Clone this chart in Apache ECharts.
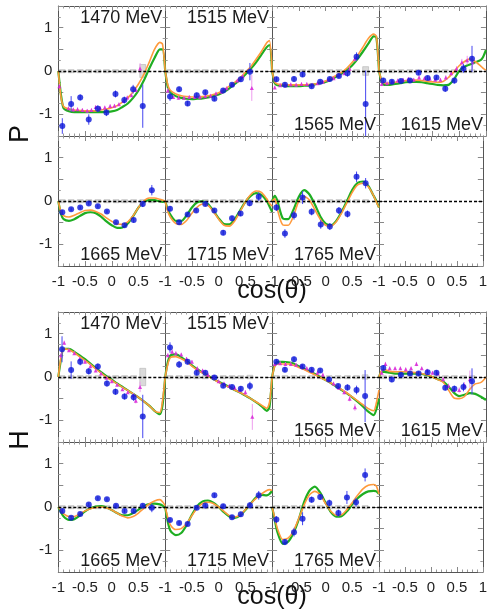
<!DOCTYPE html>
<html>
<head>
<meta charset="utf-8">
<script src="https://cdn.jsdelivr.net/npm/echarts@6/dist/echarts.min.js"></script>
<style>
  html, body { margin: 0; background: #fff; }
  #chart { width: 490px; height: 616px; }
</style>
</head>
<body>
<div id="chart"></div>
<script>
// x grid of the two model curves (cos theta)
const cosGrid = [-1, -0.95, -0.9, -0.8, -0.7, -0.6, -0.5, -0.4, -0.3, -0.2, -0.1, 0, 0.1, 0.2, 0.3, 0.4, 0.5, 0.6, 0.7, 0.8, 0.9, 0.95, 1]

// ---- P, upper row ----
// blue: [cos, value, stat err, sys err]
const P1470_blue = [[-0.925, -1.27, 0.18, 0.03], [-0.76, -0.76, 0.18, 0.03], [-0.59, -0.61, 0.07, 0.03], [-0.43, -1.12, 0.12, 0.03], [-0.26, -0.87, 0.08, 0.03], [-0.1, -0.96, 0.08, 0.03], [0.07, -0.53, 0.08, 0.03], [0.235, -0.67, 0.08, 0.03], [0.4, -0.42, 0.1, 0.03], [0.58, -0.81, 0.5, 0.15]]
// magenta: [cos, value, err]
const P1470_tri = [[-0.98, -0.35, 0.05], [-0.81, -0.86, 0.04], [-0.72, -0.89, 0.04], [-0.64, -0.88, 0.04], [-0.55, -0.9, 0.04], [-0.46, -0.92, 0.04], [-0.38, -0.9, 0.04], [-0.3, -0.83, 0.04], [-0.22, -0.85, 0.04], [-0.13, -0.84, 0.04], [-0.03, -0.81, 0.04], [0.05, -0.8, 0.04], [0.135, -0.77, 0.04], [0.22, -0.69, 0.04], [0.29, -0.61, 0.04], [0.37, -0.56, 0.04], [0.45, -0.44, 0.05], [0.53, 0.06, 0.12]]
const P1470_green = [0, -0.55, -0.86, -0.93, -0.95, -0.95, -0.95, -0.95, -0.95, -0.95, -0.94, -0.93, -0.9, -0.83, -0.75, -0.62, -0.45, -0.22, 0.05, 0.3, 0.5, 0.5, 0]
const P1470_orange = [0, -0.6, -0.82, -0.88, -0.9, -0.91, -0.92, -0.92, -0.92, -0.9, -0.88, -0.85, -0.8, -0.72, -0.62, -0.48, -0.3, -0.08, 0.2, 0.5, 0.66, 0.62, 0]

const P1515_blue = [[-0.91, -0.59, 0.1, 0.03], [-0.74, -0.42, 0.06, 0.03], [-0.58, -0.75, 0.06, 0.03], [-0.41, -0.56, 0.06, 0.03], [-0.25, -0.49, 0.05, 0.03], [-0.08, -0.64, 0.05, 0.03], [0.085, -0.45, 0.05, 0.03], [0.25, -0.32, 0.05, 0.03], [0.415, -0.19, 0.06, 0.03], [0.585, -0.015, 0.2, 0.03]]
const P1515_tri = [[-0.95, -0.45, 0.05], [-0.85, -0.6, 0.04], [-0.75, -0.62, 0.04], [-0.65, -0.62, 0.04], [-0.55, -0.6, 0.04], [-0.45, -0.6, 0.04], [-0.35, -0.6, 0.04], [-0.25, -0.58, 0.04], [-0.15, -0.57, 0.04], [-0.05, -0.52, 0.04], [0.05, -0.48, 0.04], [0.15, -0.4, 0.04], [0.25, -0.32, 0.04], [0.35, -0.22, 0.04], [0.45, -0.12, 0.05], [0.62, -0.39, 0.3]]
const P1515_green = [0, -0.38, -0.5, -0.58, -0.62, -0.64, -0.65, -0.64, -0.63, -0.61, -0.58, -0.54, -0.48, -0.4, -0.3, -0.2, -0.08, 0.05, 0.2, 0.38, 0.55, 0.6, 0]
const P1515_orange = [0, -0.33, -0.45, -0.53, -0.57, -0.59, -0.6, -0.6, -0.59, -0.57, -0.54, -0.5, -0.43, -0.35, -0.26, -0.16, -0.03, 0.1, 0.27, 0.45, 0.65, 0.7, 0]

const P1565_blue = [[-0.92, -0.19, 0.06, 0.03], [-0.76, -0.32, 0.06, 0.03], [-0.59, -0.185, 0.06, 0.03], [-0.43, -0.08, 0.06, 0.03], [-0.26, -0.35, 0.05, 0.03], [-0.1, -0.25, 0.05, 0.03], [0.08, -0.185, 0.05, 0.03], [0.25, -0.115, 0.05, 0.03], [0.41, -0.05, 0.08, 0.03], [0.58, 0.33, 0.1, 0.03], [0.75, -0.76, 0.77, 0.1]]
const P1565_tri = [[-0.95, -0.38, 0.04], [-0.85, -0.33, 0.04], [-0.75, -0.33, 0.04], [-0.65, -0.31, 0.04], [-0.55, -0.32, 0.04], [-0.45, -0.3, 0.04], [-0.35, -0.3, 0.04], [-0.25, -0.32, 0.04], [-0.15, -0.28, 0.04], [-0.05, -0.25, 0.04], [0.05, -0.2, 0.04], [0.15, -0.17, 0.04], [0.25, -0.1, 0.04], [0.35, -0.05, 0.04], [0.45, 0.05, 0.05], [0.55, 0.28, 0.06]]
const P1565_green = [0, -0.28, -0.33, -0.34, -0.35, -0.35, -0.35, -0.34, -0.33, -0.31, -0.28, -0.25, -0.2, -0.13, -0.06, 0.02, 0.13, 0.28, 0.45, 0.63, 0.8, 0.78, 0]
const P1565_orange = [0, -0.25, -0.3, -0.31, -0.32, -0.32, -0.32, -0.32, -0.31, -0.3, -0.27, -0.23, -0.17, -0.1, -0.03, 0.07, 0.2, 0.36, 0.55, 0.75, 0.85, 0.8, 0]

const P1615_blue = [[-0.92, -0.22, 0.06, 0.03], [-0.76, -0.25, 0.05, 0.03], [-0.59, -0.23, 0.05, 0.03], [-0.42, -0.22, 0.05, 0.03], [-0.26, -0.04, 0.05, 0.03], [-0.09, -0.16, 0.05, 0.03], [0.075, -0.15, 0.05, 0.03], [0.24, -0.41, 0.07, 0.03], [0.41, -0.22, 0.07, 0.03], [0.58, 0.06, 0.1, 0.03], [0.74, 0.28, 0.3, 0.03]]
const P1615_tri = [[-0.95, -0.3, 0.05], [-0.85, -0.28, 0.04], [-0.75, -0.25, 0.04], [-0.65, -0.22, 0.04], [-0.55, -0.2, 0.04], [-0.45, -0.18, 0.04], [-0.35, -0.2, 0.04], [-0.25, -0.15, 0.04], [-0.15, -0.17, 0.04], [-0.05, -0.18, 0.04], [0.05, -0.2, 0.04], [0.15, -0.2, 0.04], [0.25, -0.15, 0.05], [0.35, -0.05, 0.05], [0.45, 0.05, 0.06], [0.55, 0.2, 0.08], [0.65, 0.25, 0.1], [0.75, 0.2, 0.15]]
const P1615_green = [0, -0.25, -0.32, -0.32, -0.3, -0.28, -0.26, -0.25, -0.25, -0.26, -0.28, -0.3, -0.32, -0.33, -0.32, -0.2, 0.0, 0.1, 0.15, 0.2, 0.25, 0.33, 0.48]
const P1615_orange = [0, -0.22, -0.28, -0.28, -0.26, -0.24, -0.22, -0.21, -0.21, -0.22, -0.24, -0.25, -0.26, -0.24, -0.15, -0.02, 0.12, 0.22, 0.28, 0.22, 0.12, 0.06, 0.02]

// ---- P, lower row ----
const P1665_blue = [[-0.925, -0.26, 0.05, 0.03], [-0.76, -0.19, 0.04, 0.03], [-0.59, -0.15, 0.04, 0.03], [-0.43, -0.06, 0.04, 0.03], [-0.26, -0.12, 0.04, 0.03], [-0.09, -0.24, 0.04, 0.03], [0.08, -0.49, 0.04, 0.03], [0.24, -0.56, 0.05, 0.03], [0.41, -0.44, 0.06, 0.03], [0.58, -0.07, 0.07, 0.03], [0.75, 0.25, 0.12, 0.03]]
const P1665_green = [0, -0.3, -0.42, -0.46, -0.42, -0.35, -0.28, -0.26, -0.28, -0.36, -0.47, -0.56, -0.62, -0.61, -0.52, -0.35, -0.15, -0.02, 0.02, 0.02, -0.01, -0.02, 0]
const P1665_orange = [0, -0.25, -0.34, -0.37, -0.33, -0.27, -0.22, -0.21, -0.24, -0.3, -0.39, -0.47, -0.53, -0.54, -0.48, -0.34, -0.15, 0.0, 0.07, 0.07, 0.04, 0.02, 0]

const P1715_blue = [[-0.91, -0.18, 0.06, 0.03], [-0.74, -0.49, 0.05, 0.03], [-0.58, -0.31, 0.05, 0.03], [-0.42, -0.22, 0.05, 0.03], [-0.25, -0.07, 0.05, 0.03], [-0.08, -0.22, 0.05, 0.03], [0.085, -0.73, 0.06, 0.03], [0.25, -0.4, 0.06, 0.03], [0.41, -0.29, 0.06, 0.03], [0.58, -0.05, 0.07, 0.03], [0.75, 0.1, 0.1, 0.03]]
const P1715_green = [0, -0.2, -0.32, -0.46, -0.46, -0.33, -0.15, -0.03, -0.01, -0.07, -0.22, -0.4, -0.53, -0.54, -0.42, -0.22, -0.02, 0.12, 0.18, 0.14, 0, -0.12, -0.25]
const P1715_orange = [0, -0.25, -0.38, -0.52, -0.54, -0.45, -0.28, -0.14, -0.07, -0.1, -0.24, -0.42, -0.56, -0.58, -0.46, -0.25, -0.02, 0.15, 0.23, 0.2, 0.05, -0.05, -0.12]

const P1765_blue = [[-0.92, -0.15, 0.08, 0.03], [-0.76, -0.75, 0.1, 0.03], [-0.59, -0.33, 0.1, 0.03], [-0.43, 0.08, 0.15, 0.03], [-0.26, -0.25, 0.08, 0.03], [-0.09, -0.54, 0.1, 0.03], [0.08, -0.59, 0.08, 0.03], [0.25, -0.22, 0.08, 0.03], [0.41, -0.3, 0.08, 0.03], [0.58, 0.56, 0.12, 0.03], [0.75, 0.41, 0.12, 0.03]]
const P1765_green = [0, 0.12, 0.0, -0.4, -0.42, -0.2, 0.1, 0.25, 0.15, -0.08, -0.35, -0.52, -0.56, -0.46, -0.25, 0.0, 0.26, 0.42, 0.45, 0.35, 0.12, 0.0, -0.15]
const P1765_orange = [0, 0.05, -0.2, -0.55, -0.56, -0.35, 0.0, 0.1, 0.02, -0.2, -0.42, -0.56, -0.58, -0.48, -0.28, -0.04, 0.2, 0.37, 0.41, 0.33, 0.12, -0.02, -0.15]

// ---- H, upper row ----
const H1470_blue = [[-0.93, 0.64, 0.3, 0.03], [-0.76, 0.16, 0.2, 0.03], [-0.59, 0.35, 0.08, 0.03], [-0.43, 0.13, 0.07, 0.03], [-0.26, 0.24, 0.07, 0.03], [-0.09, -0.15, 0.07, 0.03], [0.07, -0.34, 0.07, 0.03], [0.24, -0.45, 0.07, 0.03], [0.41, -0.47, 0.08, 0.03], [0.58, -0.91, 0.5, 0.2]]
const H1470_tri = [[-0.95, 0.5, 0.06], [-0.89, 0.79, 0.05], [-0.8, 0.62, 0.04], [-0.7, 0.55, 0.04], [-0.6, 0.42, 0.04], [-0.5, 0.35, 0.04], [-0.4, 0.25, 0.04], [-0.3, 0.15, 0.04], [-0.2, 0.08, 0.04], [-0.1, -0.02, 0.04], [0, -0.1, 0.04], [0.1, -0.18, 0.04], [0.2, -0.28, 0.04], [0.3, -0.35, 0.04], [0.4, -0.42, 0.05], [0.45, -0.55, 0.06], [0.53, -0.23, 0.12]]
const H1470_green = [0, 0.4, 0.65, 0.65, 0.58, 0.5, 0.41, 0.31, 0.21, 0.11, 0.02, -0.06, -0.15, -0.23, -0.31, -0.39, -0.47, -0.56, -0.66, -0.78, -0.86, -0.65, 0]
const H1470_orange = [0, 0.45, 0.65, 0.63, 0.56, 0.47, 0.38, 0.29, 0.19, 0.09, 0, -0.08, -0.16, -0.24, -0.31, -0.39, -0.47, -0.56, -0.66, -0.78, -0.82, -0.55, 0]

const H1515_blue = [[-0.91, 0.68, 0.12, 0.03], [-0.74, 0.29, 0.08, 0.03], [-0.58, 0.35, 0.06, 0.03], [-0.41, 0.1, 0.06, 0.03], [-0.25, 0.1, 0.05, 0.03], [-0.08, -0.01, 0.05, 0.03], [0.085, -0.2, 0.05, 0.03], [0.25, -0.23, 0.05, 0.03], [0.415, -0.27, 0.06, 0.03], [0.585, -0.21, 0.1, 0.04]]
const H1515_tri = [[-0.95, 0.5, 0.05], [-0.87, 0.58, 0.05], [-0.8, 0.55, 0.04], [-0.7, 0.52, 0.04], [-0.6, 0.42, 0.04], [-0.5, 0.35, 0.04], [-0.4, 0.2, 0.04], [-0.3, 0.15, 0.04], [-0.2, 0.05, 0.04], [-0.1, 0.0, 0.04], [0, -0.1, 0.04], [0.1, -0.15, 0.04], [0.2, -0.2, 0.04], [0.3, -0.25, 0.04], [0.4, -0.3, 0.04], [0.5, -0.35, 0.05], [0.63, -0.92, 0.3]]
const H1515_green = [0, 0.35, 0.5, 0.52, 0.46, 0.37, 0.27, 0.18, 0.1, 0.03, -0.05, -0.11, -0.17, -0.23, -0.3, -0.36, -0.43, -0.5, -0.58, -0.67, -0.78, -0.7, 0]
const H1515_orange = [0, 0.3, 0.45, 0.47, 0.42, 0.35, 0.25, 0.16, 0.09, 0.02, -0.05, -0.12, -0.18, -0.24, -0.3, -0.36, -0.42, -0.5, -0.57, -0.65, -0.72, -0.6, 0]

const H1565_blue = [[-0.92, 0.35, 0.06, 0.03], [-0.76, 0.17, 0.06, 0.03], [-0.59, 0.41, 0.06, 0.03], [-0.43, 0.24, 0.05, 0.03], [-0.26, 0.17, 0.05, 0.03], [-0.1, 0.15, 0.05, 0.03], [0.066, -0.06, 0.05, 0.03], [0.235, -0.21, 0.05, 0.03], [0.41, -0.24, 0.07, 0.03], [0.58, -0.3, 0.1, 0.03], [0.74, -0.44, 0.6, 0.05]]
const H1565_tri = [[-0.95, 0.3, 0.04], [-0.85, 0.32, 0.04], [-0.75, 0.3, 0.04], [-0.65, 0.3, 0.04], [-0.55, 0.28, 0.04], [-0.45, 0.25, 0.04], [-0.35, 0.2, 0.04], [-0.25, 0.15, 0.04], [-0.15, 0.1, 0.04], [-0.05, 0.05, 0.04], [0.05, -0.05, 0.04], [0.15, -0.15, 0.04], [0.25, -0.25, 0.05], [0.35, -0.35, 0.05], [0.45, -0.5, 0.06], [0.55, -0.7, 0.08]]
const H1565_green = [0, 0.28, 0.35, 0.35, 0.34, 0.31, 0.25, 0.19, 0.13, 0.07, 0.0, -0.07, -0.14, -0.22, -0.3, -0.38, -0.47, -0.57, -0.68, -0.8, -0.88, -0.75, -0.5]
const H1565_orange = [0, 0.25, 0.3, 0.3, 0.3, 0.27, 0.22, 0.17, 0.11, 0.05, -0.01, -0.07, -0.14, -0.21, -0.29, -0.37, -0.46, -0.55, -0.64, -0.73, -0.78, -0.6, -0.3]

const H1615_blue = [[-0.92, 0.21, 0.06, 0.03], [-0.76, -0.06, 0.06, 0.03], [-0.59, 0.05, 0.05, 0.03], [-0.42, 0.08, 0.05, 0.03], [-0.26, 0.08, 0.05, 0.03], [-0.09, 0.11, 0.05, 0.03], [0.075, 0.1, 0.05, 0.03], [0.24, -0.25, 0.06, 0.03], [0.41, -0.27, 0.07, 0.03], [0.58, -0.23, 0.1, 0.03], [0.74, -0.1, 0.3, 0.03]]
const H1615_tri = [[-0.95, 0.1, 0.05], [-0.88, 0.3, 0.05], [-0.8, 0.2, 0.04], [-0.7, 0.2, 0.04], [-0.6, 0.2, 0.04], [-0.5, 0.18, 0.04], [-0.4, 0.2, 0.04], [-0.3, 0.3, 0.05], [-0.2, 0.2, 0.04], [-0.1, 0.15, 0.04], [0, 0.1, 0.04], [0.1, 0.08, 0.04], [0.2, -0.05, 0.05], [0.3, -0.2, 0.05], [0.4, -0.3, 0.05], [0.5, -0.3, 0.06], [0.6, -0.2, 0.08], [0.7, -0.05, 0.2]]
const H1615_green = [0, 0.12, 0.12, 0.1, 0.08, 0.08, 0.08, 0.08, 0.08, 0.07, 0.04, 0, -0.05, -0.1, -0.22, -0.36, -0.44, -0.41, -0.37, -0.39, -0.45, -0.49, -0.53]
const H1615_orange = [0, 0.15, 0.17, 0.13, 0.12, 0.12, 0.12, 0.11, 0.1, 0.08, 0.05, 0, -0.06, -0.12, -0.3, -0.48, -0.5, -0.45, -0.28, -0.16, -0.13, -0.08, 0]

// ---- H, lower row ----
const H1665_blue = [[-0.925, -0.09, 0.04, 0.03], [-0.76, -0.25, 0.04, 0.03], [-0.59, -0.16, 0.04, 0.03], [-0.43, 0.06, 0.04, 0.03], [-0.26, 0.2, 0.04, 0.03], [-0.09, 0.18, 0.04, 0.03], [0.08, 0.03, 0.04, 0.03], [0.24, -0.09, 0.04, 0.03], [0.41, -0.09, 0.04, 0.03], [0.58, 0.03, 0.05, 0.03], [0.75, -0.02, 0.1, 0.03]]
const H1665_green = [0, -0.12, -0.22, -0.3, -0.28, -0.2, -0.1, -0.03, 0.01, 0.02, -0.01, -0.07, -0.14, -0.19, -0.19, -0.14, -0.06, 0.02, 0.07, 0.08, 0.06, 0.03, -0.03]
const H1665_orange = [0, -0.08, -0.16, -0.22, -0.22, -0.16, -0.09, -0.04, -0.01, 0, -0.02, -0.07, -0.14, -0.21, -0.25, -0.22, -0.14, -0.03, 0.07, 0.14, 0.17, 0.12, 0.03]

const H1715_blue = [[-0.91, -0.3, 0.05, 0.03], [-0.74, -0.37, 0.05, 0.03], [-0.58, -0.39, 0.05, 0.03], [-0.41, -0.02, 0.05, 0.03], [-0.25, 0.035, 0.05, 0.03], [-0.08, 0.27, 0.05, 0.03], [0.085, 0.02, 0.05, 0.03], [0.25, -0.235, 0.05, 0.03], [0.415, -0.17, 0.06, 0.03], [0.585, 0.04, 0.07, 0.03], [0.75, 0.27, 0.1, 0.03]]
const H1715_green = [0, -0.35, -0.55, -0.65, -0.6, -0.42, -0.18, 0.02, 0.13, 0.15, 0.1, 0, -0.12, -0.22, -0.25, -0.2, -0.07, 0.08, 0.22, 0.28, 0.27, 0.3, 0.37]
const H1715_orange = [0, -0.25, -0.42, -0.52, -0.5, -0.38, -0.2, -0.02, 0.08, 0.11, 0.08, 0, -0.1, -0.2, -0.23, -0.18, -0.06, 0.08, 0.2, 0.3, 0.38, 0.4, 0.38]

const H1765_blue = [[-0.92, -0.29, 0.08, 0.03], [-0.76, -0.81, 0.07, 0.03], [-0.59, -0.58, 0.1, 0.03], [-0.43, -0.27, 0.15, 0.03], [-0.26, 0.17, 0.07, 0.03], [-0.1, 0.23, 0.07, 0.03], [0.07, 0.09, 0.08, 0.03], [0.24, -0.14, 0.08, 0.03], [0.4, 0.22, 0.15, 0.03], [0.57, 0.11, 0.1, 0.03], [0.74, 0.74, 0.15, 0.03]]
const H1765_green = [0, -0.3, -0.58, -0.85, -0.8, -0.6, -0.28, 0.12, 0.38, 0.47, 0.33, 0.1, -0.12, -0.22, -0.21, -0.1, 0.06, 0.2, 0.3, 0.36, 0.37, 0.36, 0.3]
const H1765_orange = [0, -0.25, -0.5, -0.75, -0.72, -0.55, -0.26, 0.05, 0.28, 0.36, 0.28, 0.08, -0.1, -0.19, -0.18, -0.06, 0.1, 0.27, 0.42, 0.5, 0.52, 0.48, 0.3]

// row 0: P upper, 1: P lower, 2: H upper, 3: H lower
const panels = [
  {row: 0, col: 0, label: '1470 MeV', top: true, blue: P1470_blue, tri: P1470_tri, green: P1470_green, orange: P1470_orange},
  {row: 0, col: 1, label: '1515 MeV', top: true, blue: P1515_blue, tri: P1515_tri, green: P1515_green, orange: P1515_orange},
  {row: 0, col: 2, label: '1565 MeV', top: false, blue: P1565_blue, tri: P1565_tri, green: P1565_green, orange: P1565_orange},
  {row: 0, col: 3, label: '1615 MeV', top: false, blue: P1615_blue, tri: P1615_tri, green: P1615_green, orange: P1615_orange},
  {row: 1, col: 0, label: '1665 MeV', top: false, blue: P1665_blue, tri: [], green: P1665_green, orange: P1665_orange},
  {row: 1, col: 1, label: '1715 MeV', top: false, blue: P1715_blue, tri: [], green: P1715_green, orange: P1715_orange},
  {row: 1, col: 2, label: '1765 MeV', top: false, blue: P1765_blue, tri: [], green: P1765_green, orange: P1765_orange},
  {row: 2, col: 0, label: '1470 MeV', top: true, blue: H1470_blue, tri: H1470_tri, green: H1470_green, orange: H1470_orange},
  {row: 2, col: 1, label: '1515 MeV', top: true, blue: H1515_blue, tri: H1515_tri, green: H1515_green, orange: H1515_orange},
  {row: 2, col: 2, label: '1565 MeV', top: false, blue: H1565_blue, tri: H1565_tri, green: H1565_green, orange: H1565_orange},
  {row: 2, col: 3, label: '1615 MeV', top: false, blue: H1615_blue, tri: H1615_tri, green: H1615_green, orange: H1615_orange},
  {row: 3, col: 0, label: '1665 MeV', top: false, blue: H1665_blue, tri: [], green: H1665_green, orange: H1665_orange},
  {row: 3, col: 1, label: '1715 MeV', top: false, blue: H1715_blue, tri: [], green: H1715_green, orange: H1715_orange},
  {row: 3, col: 2, label: '1765 MeV', top: false, blue: H1765_blue, tri: [], green: H1765_green, orange: H1765_orange}
]

// layout
const FONT = 'Liberation Sans, Arial, Helvetica, sans-serif'
const COL0 = 58.3
const PW = 106.9
const PH = 130
const ROW_TOP = [6, 136, 312, 442]

// vertical error bar
function errBar (color) {
  return function (params, api) {
    const x = api.value(0)
    const y = api.value(1)
    const e = api.value(2)
    const a = api.coord([x, y + e])
    const b = api.coord([x, y - e])
    return {
      type: 'line',
      shape: {x1: a[0], y1: a[1], x2: b[0], y2: b[1]},
      style: {stroke: color, lineWidth: 1}
    }
  }
}

// gray systematic box around zero
function sysBox (params, api) {
  const x = api.value(0)
  const s = api.value(3)
  const a = api.coord([x - 0.055, s])
  const b = api.coord([x + 0.055, -s])
  return {
    type: 'rect',
    shape: {x: a[0], y: a[1], width: b[0] - a[0], height: Math.max(b[1] - a[1], 3)},
    style: {fill: '#dadada', stroke: '#b4b4b4', lineWidth: 0.6}
  }
}

function makeX (g, pos, showLabel, col) {
  return {
    gridIndex: g,
    type: 'value',
    position: pos,
    min: -1,
    max: 1,
    interval: 0.5,
    axisLine: {show: true, onZero: false, lineStyle: {color: '#555', width: 1}},
    axisTick: {show: true, inside: true, length: 5, lineStyle: {color: '#888'}},
    minorTick: {show: true, splitNumber: 5, length: 2.5, lineStyle: {color: '#999'}},
    splitLine: {show: false},
    axisLabel: {
      show: showLabel,
      margin: 8,
      fontSize: 15,
      fontFamily: FONT,
      color: '#222',
      formatter: function (v) {
        return (v === 1 && col < 3) ? '' : String(v)
      }
    }
  }
}

function makeY (g, pos, showLabel) {
  return {
    gridIndex: g,
    type: 'value',
    position: pos,
    min: -1.5,
    max: 1.5,
    interval: 0.5,
    axisLine: {show: true, onZero: false, lineStyle: {color: '#555', width: 1}},
    axisTick: {show: true, inside: true, length: 5, lineStyle: {color: '#888'}},
    minorTick: {show: true, splitNumber: 2, length: 2.5, lineStyle: {color: '#999'}},
    splitLine: {show: false},
    axisLabel: {
      show: showLabel,
      margin: 6,
      fontSize: 15,
      fontFamily: FONT,
      color: '#222',
      formatter: function (v) {
        return Math.abs(v - Math.round(v)) < 1e-6 ? String(Math.round(v)) : ''
      }
    }
  }
}

const grids = []
const xAxes = []
const yAxes = []
const series = []
const texts = []

for (let row = 0; row < 4; row++) {
  for (let col = 0; col < 4; col++) {
    const g = row * 4 + col
    grids.push({left: COL0 + col * PW, top: ROW_TOP[row], width: PW, height: PH})
    const bottomRow = row === 1 || row === 3
    xAxes.push(makeX(g, 'bottom', bottomRow, col), makeX(g, 'top', false, col))
    yAxes.push(makeY(g, 'left', col === 0), makeY(g, 'right', false))
    // dotted zero line
    series.push({
      type: 'line',
      xAxisIndex: 2 * g,
      yAxisIndex: 2 * g,
      data: [],
      silent: true,
      z: 2,
      markLine: {
        silent: true,
        symbol: ['none', 'none'],
        label: {show: false},
        lineStyle: {color: '#000', type: [3, 2], width: 1.3},
        data: [{yAxis: 0}]
      }
    })
  }
}

panels.forEach(function (p) {
  const g = p.row * 4 + p.col
  const ax = {xAxisIndex: 2 * g, yAxisIndex: 2 * g}
  series.push(Object.assign({type: 'custom', renderItem: sysBox, data: p.blue, clip: true, silent: true, z: 1}, ax))
  series.push(Object.assign({
    type: 'line',
    data: cosGrid.map((x, i) => [x, p.green[i]]),
    symbol: 'none',
    smooth: 0.25,
    silent: true,
    lineStyle: {color: '#1fae22', width: 2.2},
    z: 3
  }, ax))
  series.push(Object.assign({
    type: 'line',
    data: cosGrid.map((x, i) => [x, p.orange[i]]),
    symbol: 'none',
    smooth: 0.25,
    silent: true,
    lineStyle: {color: '#ff9a3c', width: 1.6},
    z: 3
  }, ax))
  if (p.tri.length) {
    series.push(Object.assign({type: 'custom', renderItem: errBar('#ee9cee'), data: p.tri, clip: true, silent: true, z: 4}, ax))
    series.push(Object.assign({
      type: 'scatter',
      data: p.tri,
      symbol: 'triangle',
      symbolSize: 4,
      silent: true,
      itemStyle: {color: '#d61ad6'},
      z: 4
    }, ax))
  }
  series.push(Object.assign({type: 'custom', renderItem: errBar('#4646f0'), data: p.blue, clip: true, silent: true, z: 5}, ax))
  series.push(Object.assign({
    type: 'scatter',
    data: p.blue,
    symbol: 'circle',
    symbolSize: 6,
    silent: true,
    itemStyle: {color: '#0b16d8'},
    z: 5
  }, ax))

  // energy label inside the panel
  const left = COL0 + p.col * PW
  const top = ROW_TOP[p.row]
  texts.push({
    type: 'text',
    x: left + PW - 3,
    y: p.top ? top + 3 : top + PH - 2,
    style: {
      text: p.label,
      font: '18px ' + FONT,
      fill: '#1a1a1a',
      align: 'right',
      verticalAlign: p.top ? 'top' : 'bottom'
    },
    z: 10
  })
})

// axis titles
texts.push(
  {type: 'text', x: 21, y: 134, rotation: Math.PI / 2, style: {text: 'P', font: '27px ' + FONT, fill: '#111', align: 'center', verticalAlign: 'middle'}},
  {type: 'text', x: 21, y: 440, rotation: Math.PI / 2, style: {text: 'H', font: '27px ' + FONT, fill: '#111', align: 'center', verticalAlign: 'middle'}},
  {type: 'text', x: 272, y: 304, style: {text: 'cos(θ)', font: '25px ' + FONT, fill: '#111', align: 'center', verticalAlign: 'bottom'}},
  {type: 'text', x: 272, y: 610, style: {text: 'cos(θ)', font: '25px ' + FONT, fill: '#111', align: 'center', verticalAlign: 'bottom'}}
)

const chart = echarts.init(document.getElementById('chart'), null, {renderer: 'canvas'})
chart.setOption({
  animation: false,
  backgroundColor: '#fff',
  grid: grids,
  xAxis: xAxes,
  yAxis: yAxes,
  series: series,
  graphic: texts
})
</script>
</body>
</html>
